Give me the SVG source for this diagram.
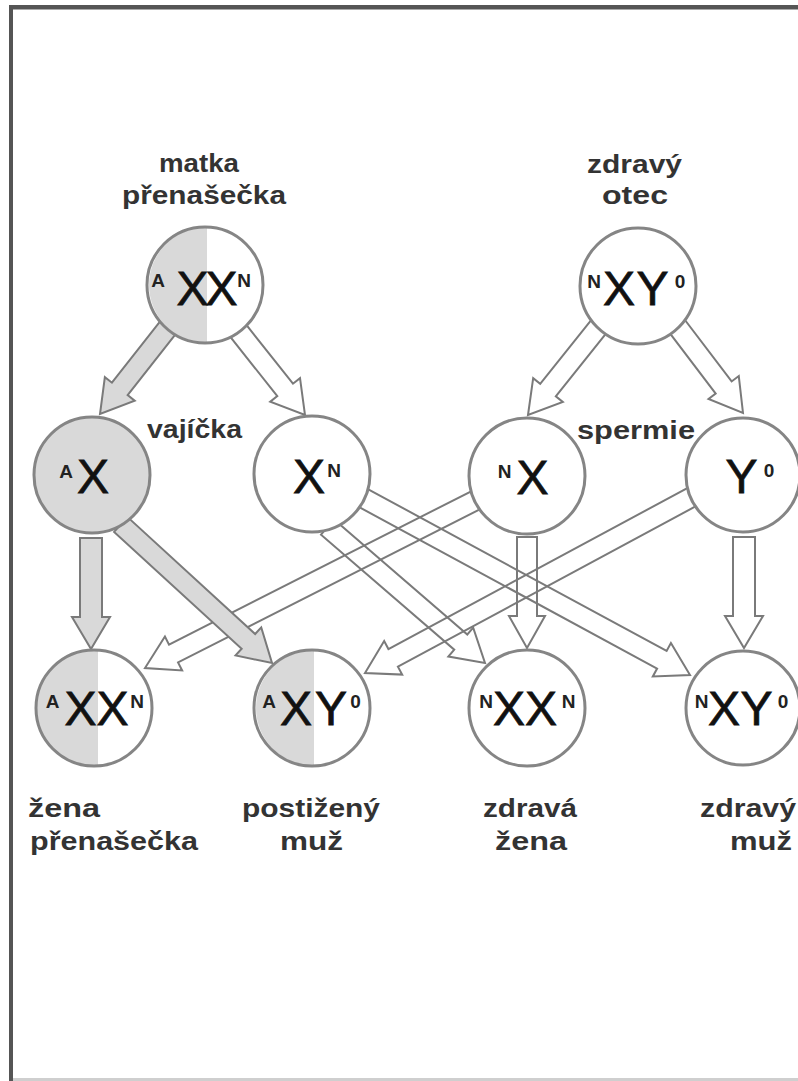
<svg xmlns="http://www.w3.org/2000/svg" width="798" height="1081" viewBox="0 0 798 1081">
<style>
.lbl{font-family:"Liberation Sans",Arial,sans-serif;font-weight:bold;font-size:25px;fill:#333;text-anchor:middle}
.big{font-family:"Liberation Sans",Arial,sans-serif;font-size:48px;fill:#111;stroke:#111;stroke-width:0.8;text-anchor:middle}
.sup{font-family:"Liberation Sans",Arial,sans-serif;font-weight:bold;font-size:19px;fill:#222;text-anchor:middle}
.ring{fill:none;stroke:#858585;stroke-width:3}
.wf{fill:#fff}
.gf{fill:#d9d9d9}
.aw{fill:none;stroke:#7a7a7a;stroke-width:2;stroke-linejoin:miter}
.ag{fill:#d9d9d9;stroke:#7a7a7a;stroke-width:2;stroke-linejoin:miter}
</style>
<rect x="0" y="0" width="798" height="1081" fill="#fff"/>
<g id="frame">
<rect x="9" y="5" width="789" height="4" fill="#555"/>
<rect x="13" y="9" width="785" height="1" fill="#aaa"/>
<rect x="9" y="5" width="4" height="1076" fill="#555"/>
<rect x="13" y="1078" width="785" height="3" fill="#cfcfcf"/>
</g>
<g id="connectors">
<polygon class="aw" transform="translate(305,415) rotate(51.6)" points="-113,-10 -32,-10 -32,-19 0,0 -32,19 -32,10 -113,10"/>
<polygon class="aw" transform="translate(528,415) rotate(128.7)" points="-117,-10 -32,-10 -32,-19 0,0 -32,19 -32,10 -117,10"/>
<polygon class="aw" transform="translate(743,413) rotate(52.8)" points="-112,-10 -32,-10 -32,-19 0,0 -32,19 -32,10 -112,10"/>
<polygon class="aw" transform="translate(485,663) rotate(40.8)" points="-208,-10 -32,-10 -32,-19 0,0 -32,19 -32,10 -208,10"/>
<polygon class="aw" transform="translate(690,675) rotate(28.45)" points="-375,-10 -32,-10 -32,-19 0,0 -32,19 -32,10 -375,10"/>
<polygon class="aw" transform="translate(145,668) rotate(153.1)" points="-372,-10 -32,-10 -32,-19 0,0 -32,19 -32,10 -372,10"/>
<polygon class="aw" transform="translate(527,648) rotate(90)" points="-111,-10 -32,-10 -32,-18 0,0 -32,18 -32,10 -111,10"/>
<polygon class="aw" transform="translate(365,673) rotate(151.7)" points="-372,-10 -32,-10 -32,-19 0,0 -32,19 -32,10 -372,10"/>
<polygon class="aw" transform="translate(744,648) rotate(90)" points="-111,-11 -32,-11 -32,-19 0,0 -32,19 -32,11 -111,11"/>
<polygon class="ag" transform="translate(100,414) rotate(128.2)" points="-115,-10 -32,-10 -32,-19 0,0 -32,19 -32,10 -115,10"/>
<polygon class="ag" transform="translate(91,649) rotate(90)" points="-111,-11 -32,-11 -32,-19 0,0 -32,19 -32,11 -111,11"/>
<polygon class="ag" transform="translate(272,663) rotate(42.5)" points="-205,-10 -32,-10 -32,-19 0,0 -32,19 -32,10 -205,10"/>
</g>
<g id="mother">
<text class="lbl" x="199" y="172" textLength="80" lengthAdjust="spacingAndGlyphs">matka</text>
<text class="lbl" x="204" y="204" textLength="164" lengthAdjust="spacingAndGlyphs">přenašečka</text>
<circle class="wf" cx="205" cy="285" r="58"/>
<path class="gf" d="M207,227 A58,58 0 0 0 207,343 Z"/>
<circle class="ring" cx="205" cy="285" r="58"/>
<text class="sup" x="158" y="287">A</text>
<text class="big" x="192.5" y="305">X</text>
<text class="big" x="221.5" y="305">X</text>
<text class="sup" x="244" y="287">N</text>
</g>
<g id="father">
<text class="lbl" x="634.5" y="173" textLength="95" lengthAdjust="spacingAndGlyphs">zdravý</text>
<text class="lbl" x="635" y="204" textLength="66" lengthAdjust="spacingAndGlyphs">otec</text>
<circle class="ring" cx="638" cy="286" r="58" style="fill:#fff"/>
<text class="sup" x="594" y="288">N</text>
<text class="big" x="619" y="305">X</text>
<text class="big" x="652.5" y="305">Y</text>
<text class="sup" x="680" y="288">0</text>
</g>
<g id="egg-A">
<text class="lbl" x="194.5" y="438" textLength="95" lengthAdjust="spacingAndGlyphs">vajíčka</text>
<circle class="ring" cx="92" cy="475" r="58" style="fill:#d9d9d9"/>
<text class="sup" x="66" y="478">A</text>
<text class="big" x="93" y="493">X</text>
</g>
<g id="egg-N">
<circle class="ring" cx="312" cy="474" r="58" style="fill:#fff"/>
<text class="big" x="309" y="493">X</text>
<text class="sup" x="334" y="477">N</text>
</g>
<g id="sperm-X">
<text class="lbl" x="636" y="439" textLength="118" lengthAdjust="spacingAndGlyphs">spermie</text>
<circle class="ring" cx="527" cy="476" r="58" style="fill:#fff"/>
<text class="sup" x="504.5" y="478">N</text>
<text class="big" x="532.5" y="494">X</text>
</g>
<g id="sperm-Y">
<circle class="ring" cx="743" cy="475" r="57" style="fill:#fff"/>
<text class="big" x="741.5" y="493">Y</text>
<text class="sup" x="769" y="477">0</text>
</g>
<g id="child-carrier">
<circle class="wf" cx="94" cy="708" r="58"/>
<path class="gf" d="M98,650.1 A58,58 0 1 0 98,765.9 Z"/>
<circle class="ring" cx="94" cy="708" r="58"/>
<text class="sup" x="52.5" y="708">A</text>
<text class="big" x="80.5" y="725">X</text>
<text class="big" x="112.5" y="725">X</text>
<text class="sup" x="137" y="708">N</text>
<text class="lbl" x="64" y="817" textLength="72" lengthAdjust="spacingAndGlyphs">žena</text>
<text class="lbl" x="114" y="850" textLength="168" lengthAdjust="spacingAndGlyphs">přenašečka</text>
</g>
<g id="child-affected">
<circle class="wf" cx="312" cy="708" r="58"/>
<path class="gf" d="M314,650 A58,58 0 0 0 314,766 Z"/>
<circle class="ring" cx="312" cy="708" r="58"/>
<text class="sup" x="269" y="708">A</text>
<text class="big" x="296" y="725">X</text>
<text class="big" x="331" y="725">Y</text>
<text class="sup" x="355.5" y="708">0</text>
<text class="lbl" x="311" y="817" textLength="138" lengthAdjust="spacingAndGlyphs">postižený</text>
<text class="lbl" x="311.5" y="850" textLength="63" lengthAdjust="spacingAndGlyphs">muž</text>
</g>
<g id="child-healthy-female">
<circle class="ring" cx="527" cy="708" r="58" style="fill:#fff"/>
<text class="sup" x="486" y="708">N</text>
<text class="big" x="509" y="725">X</text>
<text class="big" x="541" y="725">X</text>
<text class="sup" x="568.5" y="708">N</text>
<text class="lbl" x="530" y="817" textLength="94" lengthAdjust="spacingAndGlyphs">zdravá</text>
<text class="lbl" x="531" y="850" textLength="72" lengthAdjust="spacingAndGlyphs">žena</text>
</g>
<g id="child-healthy-male">
<circle class="ring" cx="743" cy="708" r="57" style="fill:#fff"/>
<text class="sup" x="701.5" y="708">N</text>
<text class="big" x="724" y="725">X</text>
<text class="big" x="756.5" y="725">Y</text>
<text class="sup" x="783" y="708">0</text>
<text class="lbl" x="748" y="817" textLength="96" lengthAdjust="spacingAndGlyphs">zdravý</text>
<text class="lbl" x="761" y="850" textLength="62" lengthAdjust="spacingAndGlyphs">muž</text>
</g>
</svg>
